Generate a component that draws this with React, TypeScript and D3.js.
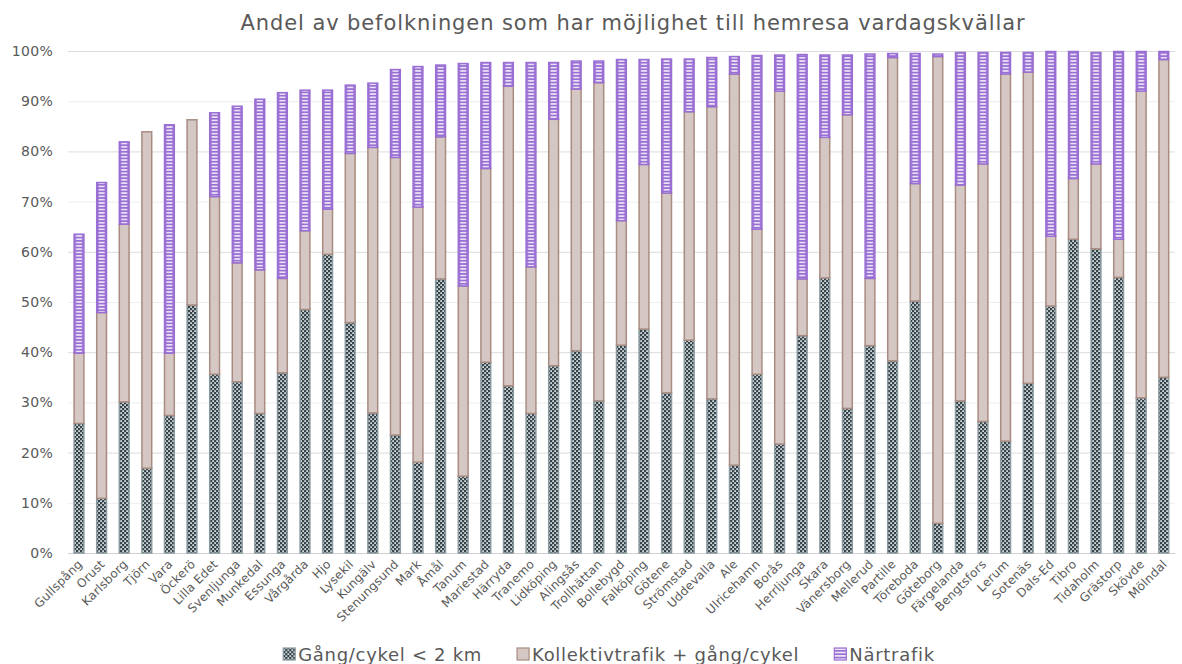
import { useEffect, useRef } from 'react'
import * as d3 from 'd3'

const kommuner = ['Gullspång','Orust','Karlsborg','Tjörn','Vara','Öckerö','Lilla Edet','Svenljunga','Munkedal','Essunga','Vårgårda','Hjo','Lysekil','Kungälv','Stenungsund','Mark','Åmål','Tanum','Mariestad','Härryda','Tranemo','Lidköping','Alingsås','Trollhättan','Bollebygd','Falköping','Götene','Strömstad','Uddevalla','Ale','Ulricehamn','Borås','Herrljunga','Skara','Vänersborg','Mellerud','Partille','Töreboda','Göteborg','Färgelanda','Bengtsfors','Lerum','Sotenäs','Dals-Ed','Tibro','Tidaholm','Grästorp','Skövde','Mölndal']
const gangCykel = [25.8,10.9,30.1,16.9,27.4,49.4,35.6,34.1,27.8,35.9,48.5,59.5,45.9,27.9,23.5,18.1,54.6,15.3,38.0,33.3,27.8,37.3,40.3,30.3,41.4,44.6,31.9,42.4,30.7,17.5,35.6,21.7,43.3,54.8,28.8,41.3,38.3,50.2,5.9,30.3,26.2,22.3,33.8,49.2,62.5,60.6,54.9,30.9,35.0]
const kollektiv = [14.0,37.0,35.4,67.0,12.4,36.9,35.4,23.7,28.6,18.8,15.7,9.0,33.7,52.9,55.3,50.8,28.3,37.9,38.6,59.7,29.2,49.1,52.1,63.4,24.8,32.8,39.8,45.5,58.2,77.9,28.9,70.3,11.3,28.0,58.5,13.4,60.4,23.4,93.0,43.0,51.3,73.1,62.0,13.9,12.1,16.9,7.6,61.1,63.3]
const nartrafik = [23.7,25.9,16.4,0,45.5,0,16.7,31.2,34.0,37.0,28.0,23.7,13.6,12.8,17.5,28.0,14.3,44.3,21.1,4.7,40.7,11.3,5.6,4.3,32.1,20.9,26.7,10.5,9.8,3.5,34.6,7.2,44.7,16.4,11.9,44.7,0.8,25.9,0.5,26.4,22.2,4.3,3.9,36.8,25.3,22.2,37.4,7.9,1.6]
const seriesNames = ['Gång/cykel < 2 km','Kollektivtrafik + gång/cykel','Närtrafik']
const yTicks = [0,10,20,30,40,50,60,70,80,90,100]
const title = 'Andel av befolkningen som har möjlighet till hemresa vardagskvällar'

const W = 1182, H = 664
const FONT = 'DejaVu Sans, Verdana, sans-serif'

export default function App() {
  const ref = useRef<SVGSVGElement>(null)
  useEffect(() => {
    document.body.style.margin = '0'
    if (!ref.current) return
    const svg = d3.select(ref.current)
    svg.selectAll('*').remove()
    const rows = kommuner.map((k, i) => ({ k, s0: gangCykel[i], s1: kollektiv[i], s2: nartrafik[i] }))
    const x = d3.scaleBand<string>().domain(kommuner).range([67.7, 1175.1]).paddingInner(0.5).paddingOuter(0.25)
    const y = d3.scaleLinear().domain([0, 100]).range([553, 51])
    const bw = x.bandwidth(), step = x.step()
    const x0 = x(kommuner[0])!

    const defs = svg.append('defs')
    const dots = defs.append('pattern').attr('id', 'dots').attr('patternUnits', 'userSpaceOnUse').attr('width', 4).attr('height', 4)
    dots.append('rect').attr('width', 4).attr('height', 4).attr('fill', '#34454c')
    dots.append('rect').attr('x', 0.3).attr('y', 0.3).attr('width', 1.6).attr('height', 1.6).attr('fill', '#fff')
    dots.append('rect').attr('x', 2.3).attr('y', 2.3).attr('width', 1.6).attr('height', 1.6).attr('fill', '#fff')
    const stripes = defs.append('pattern').attr('id', 'stripes').attr('patternUnits', 'userSpaceOnUse')
      .attr('x', x0).attr('y', 0).attr('width', step).attr('height', 3.3)
    stripes.append('rect').attr('width', step).attr('height', 3.3).attr('fill', '#9a6fd4')
    stripes.append('rect').attr('x', 2.6).attr('y', 1).attr('width', bw - 5.2).attr('height', 1.3).attr('fill', '#fff')
    const lstripes = defs.append('pattern').attr('id', 'lstripes').attr('patternUnits', 'userSpaceOnUse').attr('width', 20).attr('height', 3.4)
    lstripes.append('rect').attr('width', 20).attr('height', 3.4).attr('fill', '#9a6fd4')
    lstripes.append('rect').attr('y', 1).attr('width', 20).attr('height', 1.4).attr('fill', '#fff')

    // title
    svg.append('text').attr('x', 633).attr('y', 30).attr('text-anchor', 'middle')
      .style('font-family', FONT).style('font-size', '21px').style('letter-spacing', '0.9px')
      .style('fill', '#595959').text(title)

    // grid + y labels
    const g = svg.append('g')
    g.selectAll('line.grid').data(yTicks).join('line').attr('class', 'grid')
      .attr('x1', 68).attr('x2', 1175).attr('y1', d => y(d) + 0.5).attr('y2', d => y(d) + 0.5)
      .attr('stroke', d => d === 0 ? '#d0d0d0' : d % 20 === 0 ? '#dcdcdc' : '#eeeeee').attr('stroke-width', 1)
    g.selectAll('text.yl').data(yTicks).join('text').attr('class', 'yl')
      .attr('x', 53).attr('y', d => y(d) + 5).attr('text-anchor', 'end')
      .style('font-family', FONT).style('font-size', '14px').style('letter-spacing', '0.3px').style('fill', '#595959')
      .text(d => d + '%')

    // stacked bars
    const stack = d3.stack<any>().keys(['s0', 's1', 's2'])(rows)
    const fills = ['url(#dots)', '#d5c7c3', 'url(#stripes)']
    const strokes = ['#8a9aa1', '#a88c82', '#9a6fd4']
    stack.forEach((layer, li) => {
      svg.append('g').selectAll('rect').data(layer.filter(d => d[1] - d[0] > 0)).join('rect')
        .attr('x', d => x(d.data.k)! + 0.75)
        .attr('width', bw - 1.5)
        .attr('y', d => y(d[1]))
        .attr('height', d => Math.max(0.5, y(d[0]) - y(d[1])))
        .attr('fill', fills[li])
        .attr('stroke', strokes[li])
        .attr('stroke-width', 1.5)
    })

    // x labels
    svg.append('g').selectAll('text').data(kommuner).join('text')
      .attr('transform', d => `translate(${x(d)! + bw / 2 + 4},${565}) rotate(-45)`)
      .attr('text-anchor', 'end')
      .style('font-family', FONT).style('font-size', '12px').style('letter-spacing', '0.2px').style('fill', '#595959')
      .text(d => d)

    // legend
    const leg = svg.append('g')
    const lfills = ['url(#dots)', '#d5c7c3', 'url(#lstripes)']
    const items = seriesNames.map((n, i) => {
      const it = leg.append('g')
      it.append('rect').attr('x', 0).attr('y', -13).attr('width', 12).attr('height', 12)
        .attr('fill', lfills[i]).attr('stroke', strokes[i]).attr('stroke-width', 1.2)
      const t = it.append('text').attr('x', 15).attr('y', 0)
        .style('font-family', FONT).style('font-size', '18px').style('letter-spacing', '0.7px')
        .style('fill', '#595959').text(n)
      const w = 15 + (t.node() as SVGTextElement).getComputedTextLength()
      return { it, w }
    })
    const gap = 35
    const total = d3.sum(items, d => d.w) + gap * (items.length - 1)
    let lx = 609 - total / 2
    items.forEach(d => { d.it.attr('transform', `translate(${lx},661)`); lx += d.w + gap })
  }, [])
  return <svg ref={ref} width={W} height={H} style={{ display: 'block', background: '#fff' }} />
}
